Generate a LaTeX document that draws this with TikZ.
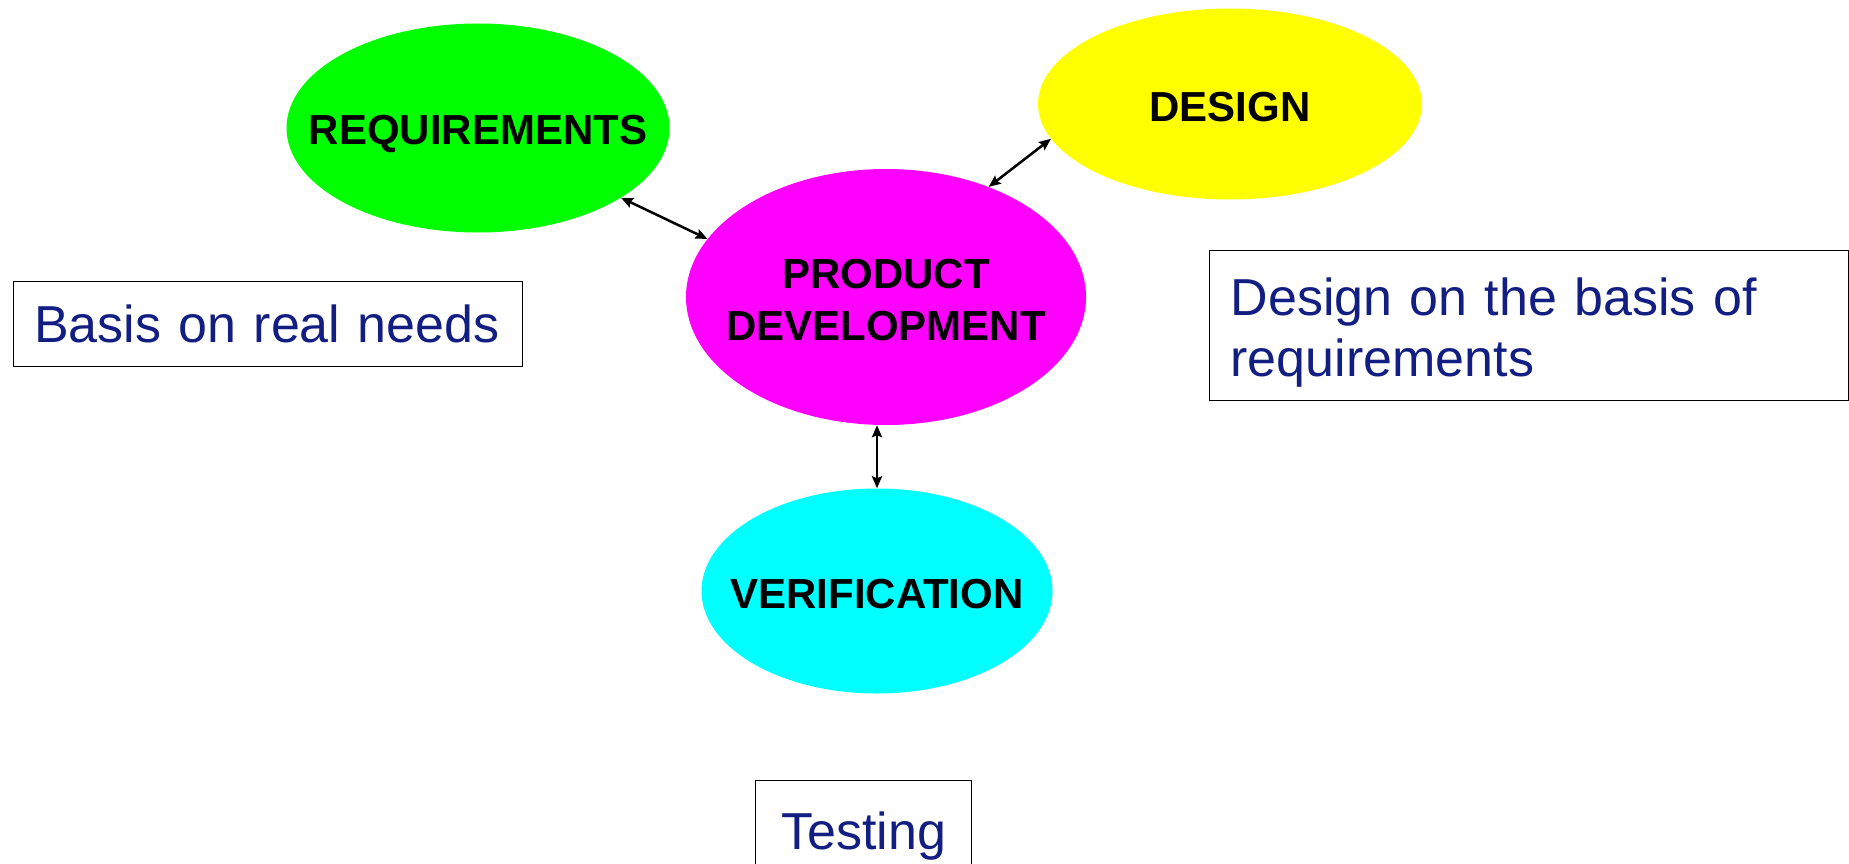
\documentclass[tikz,border=0pt]{standalone}
\usepackage{fontspec}
\setmainfont{Liberation Sans}
\usetikzlibrary{shapes.geometric,arrows.meta}
\definecolor{noteblue}{RGB}{18,30,130}
\definecolor{reqgreen}{RGB}{0,255,0}
\definecolor{desyellow}{RGB}{255,255,0}
\definecolor{pdmagenta}{RGB}{255,0,255}
\definecolor{vercyan}{RGB}{0,255,255}

\begin{document}
\begin{tikzpicture}[x=1pt,y=-1pt,
  bubble/.style={ellipse,inner sep=0pt},
  every label/.style={font=\fontsize{42}{52}\selectfont\bfseries,align=center,yshift=-3pt},
  note/.style={draw,line width=1.3pt,anchor=north west,inner ysep=0pt,
    font=\fontsize{52}{61}\selectfont,text=noteblue},
  link/.style={{Stealth[length=12pt,width=10pt,inset=2pt]}-{Stealth[length=12pt,width=10pt,inset=2pt]},line width=2.5pt}]
\useasboundingbox (0,0) rectangle (1849,864);
% the four bubbles
\node[bubble,fill=reqgreen,minimum width=383pt,minimum height=209pt,label={[yshift=-3pt]center:REQUIREMENTS}] (req) at (478,128) {};
\node[bubble,fill=desyellow,minimum width=384pt,minimum height=191pt,label=center:DESIGN] (des) at (1230,104) {};
\node[bubble,fill=pdmagenta,minimum width=400pt,minimum height=256pt,label={center:PRODUCT\\DEVELOPMENT}] (pd) at (886,297) {};
\node[bubble,fill=vercyan,minimum width=351pt,minimum height=205pt,label=center:VERIFICATION] (ver) at (877,591) {};
% notes
\node[note,text width=468pt,inner xsep=20.5pt,align=left,minimum height=85pt] (basis) at (13,281) {Basis on real needs};
\node[note,text width=597pt,inner xsep=21pt,align=left,minimum height=150pt,text height=52pt] (dbasis) at (1209,250) {Design on the basis of\\requirements};
\node[note,minimum width=216pt,inner xsep=0pt,align=center,minimum height=111pt] (test) at (755,780) {Testing};
% links
\draw[link] (req.-26.7) -- (pd.162.6);
\draw[link] (des.-169) -- (pd.47);
\draw[link] (pd.south -| ver.north) -- (ver.north);
\end{tikzpicture}
\end{document}
